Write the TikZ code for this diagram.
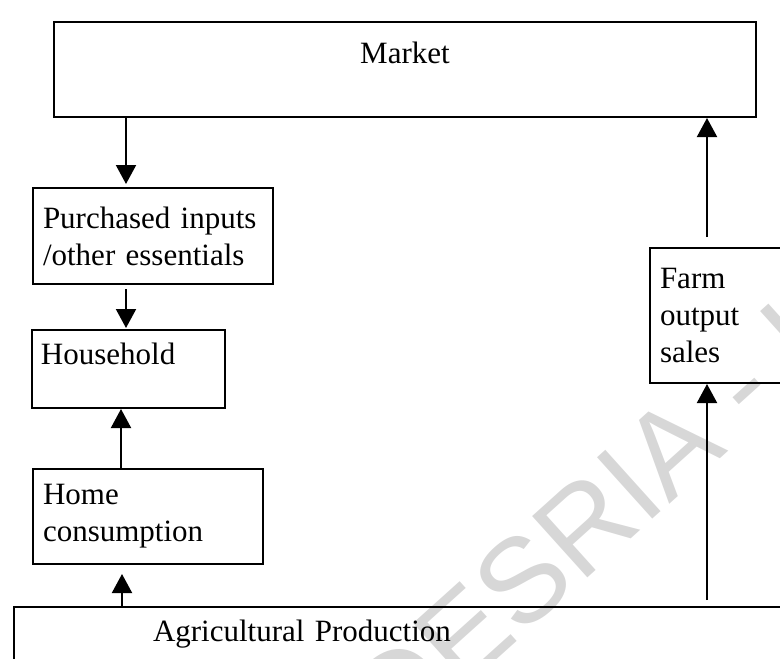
\documentclass[tikz,border=0pt]{standalone}
\usepackage{fontspec}
\setmainfont{Liberation Serif}
\newfontfamily\wmfont{Liberation Sans}
\usetikzlibrary{arrows.meta}
\definecolor{wmgray}{RGB}{215,215,215}
\begin{document}
\begin{tikzpicture}[x=1pt,y=-1pt,
  box/.style={draw, line width=2pt, anchor=north west, align=left, inner xsep=10pt, inner ysep=0pt, font=\fontsize{31}{37}\selectfont},
  arr/.style={line width=2pt, -{Triangle[width=20pt,length=19pt]}}]
\useasboundingbox (0,0) rectangle (780,659);
\clip (0,0) rectangle (780,659);
% watermark
\node[text=wmgray, font=\wmfont\fontsize{120}{120}\selectfont, rotate=42, anchor=base west, inner sep=0pt] (wm) at (263,870) {CODESRIA - LIBRARY};
% boxes
\node[box, align=center, text width=682pt, text height=41pt, text depth=54pt] (market) at (53,21) {Market};
\node[box, text width=220pt, minimum height=96pt] (purch) at (32,187) {Purchased inputs\\/other essentials};
\node[box, inner xsep=9pt, text width=175pt, text height=34pt, text depth=44pt] (house) at (31,329) {Household};
\node[box, text width=210pt, minimum height=95pt] (home) at (32,468) {Home\\consumption};
\node[box, text width=150pt, minimum height=135pt] (farm) at (649,247) {Farm\\output\\sales};
\node[box, inner xsep=139pt, text width=600pt, text height=34pt, text depth=66pt] (agri) at (13,606) {Agricultural Production};
% connector columns
\coordinate (xa) at (126,0);
\coordinate (xb) at (121,0);
\coordinate (xc) at (122,0);
\coordinate (xr) at (707,0);
\draw[arr, shorten >=3pt] (xa |- market.south) -- (xa |- purch.north);
\draw[arr, shorten <=4pt, shorten >=1pt] (xa |- purch.south) -- (xa |- house.north);
\draw[arr] (xb |- home.north) -- (xb |- house.south);
\draw[arr, shorten >=9pt] (xc |- agri.north) -- (xc |- home.south);
\draw[arr, shorten <=6pt] (xr |- agri.north) -- (xr |- farm.south);
\draw[arr, shorten <=10pt] (xr |- farm.north) -- (xr |- market.south);
\end{tikzpicture}
\end{document}
